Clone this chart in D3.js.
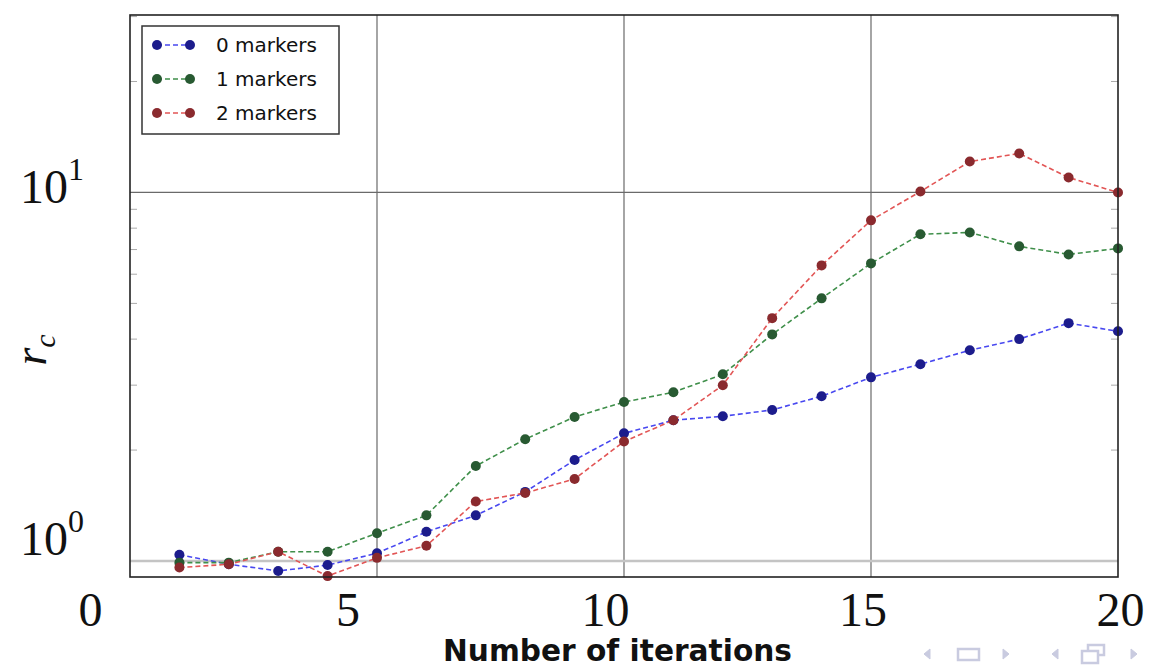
<!DOCTYPE html>
<html>
<head>
<meta charset="utf-8">
<script src="https://cdn.jsdelivr.net/npm/d3@7"></script>
<style>
  body { margin: 0; background: #fff; }
  svg { display: block; }
</style>
</head>
<body>
<div id="chart"></div>
<script>
// values, one entry per iteration
var iterations = [1, 2, 3, 4, 5, 6, 7, 8, 9, 10, 11, 12, 13, 14, 15, 16, 17, 18, 19, 20];
var markers0 = [1.04, 0.98, 0.94, 0.975, 1.05, 1.20, 1.33, 1.54, 1.88, 2.22, 2.41, 2.47, 2.57, 2.80, 3.15, 3.42, 3.73, 4.00, 4.42, 4.20];
var markers1 = [0.99, 0.99, 1.06, 1.06, 1.19, 1.33, 1.81, 2.14, 2.46, 2.70, 2.87, 3.21, 4.12, 5.16, 6.42, 7.70, 7.79, 7.14, 6.79, 7.05];
var markers2 = [0.96, 0.98, 1.06, 0.91, 1.02, 1.10, 1.45, 1.53, 1.67, 2.11, 2.41, 3.00, 4.56, 6.34, 8.40, 10.06, 12.13, 12.76, 10.98, 10.0];
var seriesNames = ["0 markers", "1 markers", "2 markers"];
var xTicks = [0, 5, 10, 15, 20];
var yTicks = [1, 10];
var yMinor = [2, 3, 4, 5, 6, 7, 8, 9, 20, 30];

var width = 1156;
var height = 669;

// plot box (note: "top" is taken by window.top, so prefix these)
var plotLeft = 130, plotRight = 1118, plotTop = 15, plotBottom = 577;

var lineColors = ["#4848f0", "#3f8f4a", "#e25555"];
var dotColors = ["#1c1c8c", "#285a32", "#8a2a2e"];

var svg = d3.select("#chart")
    .append("svg")
    .attr("width", width)
    .attr("height", height);

var x = d3.scaleLinear().domain([0, 20]).range([plotLeft, plotRight]);
var y = d3.scaleLog().domain([0.905, 30.3]).range([plotBottom, plotTop]);

// the tick labels on the slide sit on a slightly different grid than the plot
var xLabel = d3.scaleLinear().domain([0, 20]).range([90, 1120]);
var yLabel = d3.scaleLog().domain([1, 10]).range([555, 203]);

//grid lines
svg.append("g")
    .selectAll("line")
    .data([5, 10, 15])
    .enter().append("line")
    .attr("x1", d => x(d)).attr("x2", d => x(d))
    .attr("y1", plotTop).attr("y2", plotBottom)
    .attr("stroke", "#6a6a6a")
    .attr("stroke-width", 1.2);

svg.append("line")
    .attr("x1", plotLeft).attr("x2", plotRight)
    .attr("y1", y(10)).attr("y2", y(10))
    .attr("stroke", "#6a6a6a")
    .attr("stroke-width", 1.2);

svg.append("line")
    .attr("x1", plotLeft).attr("x2", plotRight)
    .attr("y1", y(1)).attr("y2", y(1))
    .attr("stroke", "#c4c4c4")
    .attr("stroke-width", 2.5);

//minor ticks on both sides
svg.append("g")
    .selectAll("line")
    .data(yMinor.filter(d => y(d) > plotTop))
    .enter().append("line")
    .attr("x1", plotLeft).attr("x2", plotLeft + 7)
    .attr("y1", d => y(d)).attr("y2", d => y(d))
    .attr("stroke", "#aaa")
    .attr("stroke-width", 1);

svg.append("g")
    .selectAll("line")
    .data(yMinor.filter(d => y(d) > plotTop))
    .enter().append("line")
    .attr("x1", plotRight - 7).attr("x2", plotRight)
    .attr("y1", d => y(d)).attr("y2", d => y(d))
    .attr("stroke", "#aaa")
    .attr("stroke-width", 1);

//series
var allSeries = [markers0, markers1, markers2];

var line = d3.line()
    .x((d, i) => x(iterations[i]))
    .y(d => y(d));

allSeries.forEach((values, k) => {
    svg.append("path")
        .datum(values)
        .attr("fill", "none")
        .attr("stroke", lineColors[k])
        .attr("stroke-width", 1.6)
        .attr("stroke-dasharray", "5,3")
        .attr("d", line);

    svg.append("g")
        .selectAll("circle")
        .data(values)
        .enter().append("circle")
        .attr("cx", (d, i) => x(iterations[i]))
        .attr("cy", d => y(d))
        .attr("r", 5)
        .attr("fill", dotColors[k]);
});

//frame
svg.append("rect")
    .attr("x", plotLeft).attr("y", plotTop)
    .attr("width", plotRight - plotLeft).attr("height", plotBottom - plotTop)
    .attr("fill", "none")
    .attr("stroke", "#222")
    .attr("stroke-width", 1.6);

//x tick labels
var xAxis = d3.axisBottom(xLabel).tickValues(xTicks).tickSize(0).tickFormat(d3.format("d"));
var gx = svg.append("g")
    .attr("transform", "translate(0," + 589 + ")")
    .call(xAxis);
gx.select(".domain").remove();
gx.selectAll("text")
    .attr("fill", "#111")
    .style("font-family", "'Liberation Serif', serif")
    .style("font-size", "48px");

//y tick labels, 10 with a raised exponent
var yl = svg.append("g")
    .selectAll("text")
    .data(yTicks)
    .enter().append("text")
    .attr("x", 20)
    .attr("y", d => yLabel(d))
    .attr("fill", "#111")
    .style("font-family", "'Liberation Serif', serif")
    .style("font-size", "48px");
yl.append("tspan").text("10");
yl.append("tspan")
    .attr("dy", -23)
    .style("font-size", "32px")
    .text(d => Math.round(Math.log10(d)));

//axis titles
var ytitle = svg.append("text")
    .attr("transform", "translate(46,350) rotate(-90)")
    .attr("text-anchor", "middle")
    .attr("fill", "#111")
    .style("font-family", "'Liberation Serif', serif")
    .style("font-style", "italic")
    .style("font-size", "46px");
ytitle.append("tspan").text("r");
ytitle.append("tspan").attr("dy", 9).style("font-size", "30px").text("c");

svg.append("text")
    .attr("x", 443)
    .attr("y", 661)
    .attr("textLength", 349)
    .attr("lengthAdjust", "spacingAndGlyphs")
    .attr("fill", "#111")
    .style("font-family", "'DejaVu Sans', sans-serif")
    .style("font-weight", "bold")
    .style("font-size", "30px")
    .text("Number of iterations");

//legend
var legend = svg.append("g");
legend.append("rect")
    .attr("x", 142).attr("y", 26)
    .attr("width", 197).attr("height", 108)
    .attr("fill", "#fff")
    .attr("stroke", "#333")
    .attr("stroke-width", 1.5);

seriesNames.forEach((name, k) => {
    var ly = 45 + k * 34;
    legend.append("line")
        .attr("x1", 157).attr("x2", 190)
        .attr("y1", ly).attr("y2", ly)
        .attr("stroke", lineColors[k])
        .attr("stroke-width", 1.6)
        .attr("stroke-dasharray", "5,3");
    legend.append("circle").attr("cx", 157).attr("cy", ly).attr("r", 5).attr("fill", dotColors[k]);
    legend.append("circle").attr("cx", 190).attr("cy", ly).attr("r", 5).attr("fill", dotColors[k]);
    legend.append("text")
        .attr("x", 216)
        .attr("y", ly + 7)
        .attr("fill", "#111")
        .style("font-family", "'DejaVu Sans', sans-serif")
        .style("font-size", "20px")
        .text(name);
});

//slide navigation symbols in the corner
var nav = svg.append("g").attr("fill", "#c9cbe0").attr("stroke", "#c9cbe0");
nav.append("path").attr("d", "M930,649 L924,654 L930,659 Z");
nav.append("rect").attr("x", 958).attr("y", 649).attr("width", 21).attr("height", 11).attr("fill", "none").attr("stroke-width", 2.5);
nav.append("path").attr("d", "M1003,649 L1009,654 L1003,659 Z");
nav.append("path").attr("d", "M1058,649 L1052,654 L1058,659 Z");
nav.append("rect").attr("x", 1088).attr("y", 645).attr("width", 16).attr("height", 10).attr("fill", "none").attr("stroke-width", 2.5);
nav.append("rect").attr("x", 1082).attr("y", 651).attr("width", 16).attr("height", 12).attr("fill", "#fff").attr("stroke-width", 2.5);
nav.append("path").attr("d", "M1131,649 L1137,654 L1131,659 Z");
</script>
</body>
</html>
